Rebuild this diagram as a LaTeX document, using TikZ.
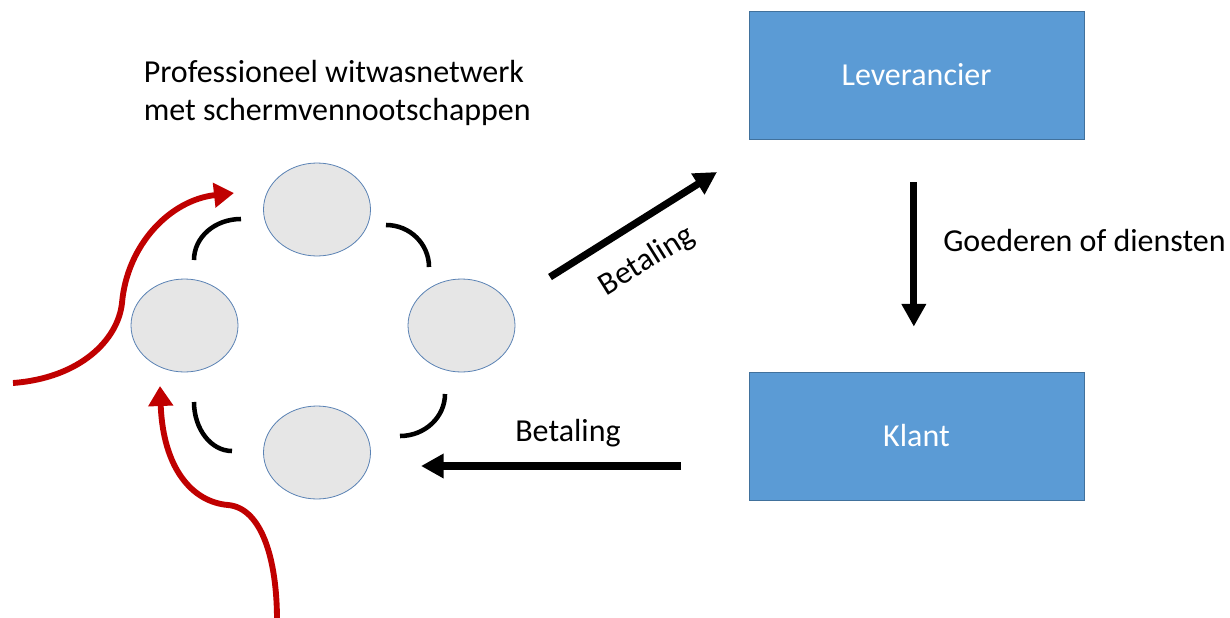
\documentclass[tikz,border=0pt]{standalone}
\usepackage{fontspec}
\setmainfont{Carlito}
\usetikzlibrary{arrows.meta,shapes.geometric}
\definecolor{boxblue}{HTML}{5B9BD5}
\definecolor{boxedge}{HTML}{41719C}
\definecolor{ellfill}{HTML}{E6E6E6}
\definecolor{elledge}{HTML}{5A82B4}
\definecolor{darkred}{HTML}{C00000}
\tikzset{
  txt/.style={font=\fontsize{24pt}{29pt}\selectfont, inner sep=0pt},
  bluebox/.style={draw=boxedge, line width=0.6pt, fill=boxblue, minimum width=251.25pt, minimum height=96pt, inner sep=0pt, text=white, font=\fontsize{24pt}{29pt}\selectfont},
  cell/.style={ellipse, draw=elledge, line width=0.6pt, fill=ellfill, minimum width=80.25pt, minimum height=69.75pt, inner sep=0pt},
  link/.style={line width=3.4pt, line cap=butt},
  bigarrow/.style={line width=5.4pt, -{Triangle[length=17pt,width=17.5pt]}},
  redarrow/.style={line width=4.4pt, darkred, -{Triangle[length=15pt,width=18pt]}}
}
\begin{document}
\begin{tikzpicture}[x=0.75pt,y=-0.75pt]
\useasboundingbox (0,0) rectangle (1230,617);
% boxes
\node[bluebox] (lev) at (916.5,75) {Leverancier};
\node[bluebox] (kl) at (916.5,436) {Klant};
% ellipses
\node[cell] (top) at (317,209.5) {};
\node[cell] (left) at (184.5,325.5) {};
\node[cell] (right) at (461.5,325.5) {};
\node[cell] (bot) at (317,452.5) {};
% title
\node[txt, anchor=base west] (title1) at (143.5,82) {Professioneel witwasnetwerk};
\node[txt, anchor=base west] (title2) at (143.5,120) {met schermvennootschappen};
% arcs
\draw[link] (241,219) .. controls (215,219) and (194,237) .. (194,260);
\draw[link] (386,225) .. controls (410,225) and (429,244) .. (429,267);
\draw[link] (445,394) .. controls (445,417) and (425,436) .. (400,436);
\draw[link] (194,402) .. controls (194,429) and (211,451) .. (232,451);
% supplier -> client
\draw[bigarrow, shorten <=32.25pt, shorten >=33.75pt] ([xshift=-2pt]lev.south) -- ([xshift=-2pt]kl.north);
\node[txt, anchor=base west] (goods) at (943,251) {Goederen of diensten};
% payment network -> supplier
\coordinate (d1) at (550,277);
\coordinate (d2) at (717,172);
\draw[bigarrow] (d1) -- (d2);
\node[txt, rotate=32] (pay1) at (647,261) {Betaling};
% client -> network
\coordinate (h1) at (681,466);
\coordinate (h2) at (421,466);
\draw[bigarrow] (h1) -- (h2);
\node[txt, anchor=base] (pay2) at (568,441) {Betaling};
% red inflows
\coordinate (r1s) at (13,383);
\coordinate (r1e) at (234,193);
\draw[redarrow] (r1s) .. controls (80,378) and (118,340) .. (122,303)
  .. controls (127,245) and (170,200) .. (r1e);
\coordinate (r2s) at (277,620);
\coordinate (r2e) at (160,386);
\draw[redarrow] (r2s) .. controls (277,560) and (262,508) .. (228,505)
  .. controls (192,502) and (163,468) .. (r2e);
\end{tikzpicture}
\end{document}
